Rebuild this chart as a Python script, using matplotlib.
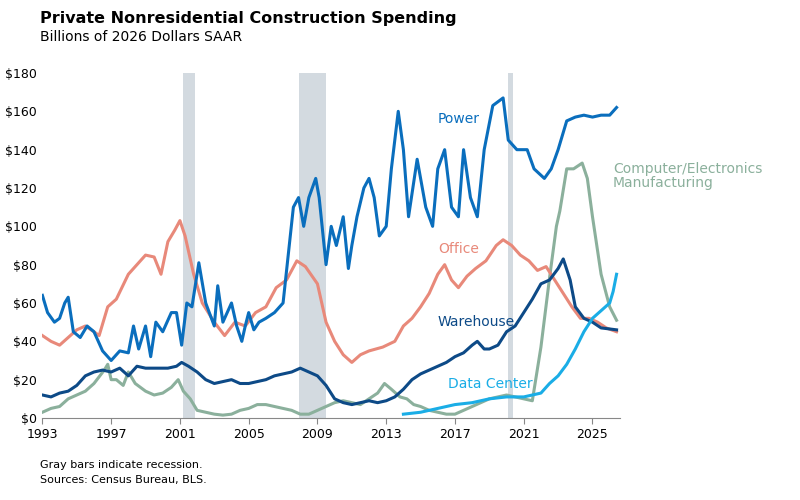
import numpy as np
import matplotlib.pyplot as plt

power_x = [1993.0, 1993.3, 1993.7, 1994.0, 1994.3, 1994.5, 1994.8, 1995.2, 1995.6, 1996.0, 1996.5, 1997.0,
           1997.5, 1998.0, 1998.3, 1998.6, 1999.0, 1999.3, 1999.6, 2000.0, 2000.5, 2000.8, 2001.1, 2001.4,
           2001.7, 2002.1, 2002.5, 2003.0, 2003.2, 2003.5, 2004.0, 2004.3, 2004.6, 2004.8, 2005.0, 2005.3,
           2005.6, 2006.0, 2006.5, 2007.0, 2007.3, 2007.6, 2007.9, 2008.2, 2008.5, 2008.9, 2009.1, 2009.5,
           2009.8, 2010.1, 2010.5, 2010.8, 2011.0, 2011.3, 2011.7, 2012.0, 2012.3, 2012.6, 2013.0, 2013.3,
           2013.7, 2014.0, 2014.3, 2014.8, 2015.3, 2015.7, 2016.0, 2016.4, 2016.8, 2017.2, 2017.5, 2017.9,
           2018.3, 2018.7, 2019.2, 2019.8, 2020.1, 2020.6, 2021.2, 2021.6, 2022.2, 2022.6, 2023.0, 2023.5,
           2024.0, 2024.5, 2025.0, 2025.5, 2026.0, 2026.4]
power_y = [64, 55, 50, 52, 60, 63, 45, 42, 48, 45, 35, 30,
           35, 34, 48, 36, 48, 32, 50, 45, 55, 55, 38, 60,
           58, 81, 60, 48, 69, 50, 60, 48, 40, 48, 55, 46,
           50, 52, 55, 60, 85, 110, 115, 100, 115, 125, 115, 80,
           100, 90, 105, 78, 90, 105, 120, 125, 115, 95, 100, 130,
           160, 140, 105, 135, 110, 100, 130, 140, 110, 105, 140, 115,
           105, 140, 163, 167, 145, 140, 140, 130, 125, 130, 140, 155,
           157, 158, 157, 158, 158, 162]

office_x = [1993, 1993.5, 1994, 1994.5, 1995, 1995.5, 1996, 1996.3, 1996.8, 1997.3, 1998, 1998.5, 1999, 1999.5,
            1999.9, 2000.3, 2000.7, 2001.0, 2001.3, 2001.8, 2002.3, 2003, 2003.6, 2004.2, 2004.8, 2005.4, 2006,
            2006.6, 2007.2, 2007.8, 2008.3, 2009.0, 2009.5, 2010.0, 2010.5, 2011.0, 2011.5, 2012.0, 2012.8,
            2013.5, 2014.0, 2014.5, 2015.0, 2015.5, 2016.0, 2016.4, 2016.8, 2017.2, 2017.7, 2018.2, 2018.8,
            2019.4, 2019.8, 2020.3, 2020.8, 2021.3, 2021.8, 2022.3, 2022.8, 2023.3, 2023.8, 2024.3, 2024.8,
            2025.3, 2025.8, 2026.4]
office_y = [43, 40, 38, 42, 46, 48, 45, 43, 58, 62, 75, 80, 85, 84,
            75, 92, 98, 103, 95, 75, 60, 50, 43, 50, 48, 55, 58,
            68, 72, 82, 79, 70, 50, 40, 33, 29, 33, 35, 37,
            40, 48, 52, 58, 65, 75, 80, 72, 68, 74, 78, 82,
            90, 93, 90, 85, 82, 77, 79, 72, 65, 58, 52, 52,
            50, 47, 45]

wh_x = [1993, 1993.5, 1994, 1994.5, 1995, 1995.5, 1996, 1996.5, 1997, 1997.5, 1998, 1998.5, 1999, 1999.5,
        2000.3, 2000.8, 2001.1, 2001.5, 2002.0, 2002.5, 2003, 2003.5, 2004, 2004.5, 2005, 2005.5, 2006,
        2006.5, 2007, 2007.5, 2008, 2008.5, 2009, 2009.5, 2010, 2010.5, 2011, 2011.5, 2012, 2012.5, 2013,
        2013.5, 2014, 2014.5, 2015, 2015.5, 2016, 2016.5, 2017, 2017.5, 2018, 2018.3, 2018.7, 2019, 2019.5,
        2020, 2020.5, 2021.0, 2021.5, 2022.0, 2022.5, 2023.0, 2023.3, 2023.7, 2024.0, 2024.5, 2025, 2025.5,
        2026.4]
wh_y = [12, 11, 13, 14, 17, 22, 24, 25, 24, 26, 22, 27, 26, 26,
        26, 27, 29, 27, 24, 20, 18, 19, 20, 18, 18, 19, 20,
        22, 23, 24, 26, 24, 22, 17, 10, 8, 7, 8, 9, 8, 9,
        11, 15, 20, 23, 25, 27, 29, 32, 34, 38, 40, 36, 36, 38,
        45, 48, 55, 62, 70, 72, 78, 83, 72, 58, 52, 50, 47,
        46]

comp_x = [1993, 1993.5, 1994, 1994.5, 1995, 1995.5, 1996, 1996.6, 1996.8, 1997.0, 1997.3, 1997.7, 1998.0,
          1998.4, 1999, 1999.5, 2000, 2000.5, 2000.9, 2001.2, 2001.6, 2002, 2002.5, 2003, 2003.5, 2004,
          2004.5, 2005, 2005.5, 2006, 2006.5, 2007, 2007.5, 2008, 2008.5, 2009, 2009.5, 2010, 2010.5, 2011,
          2011.5, 2012, 2012.5, 2012.9, 2013.3, 2013.8, 2014.2, 2014.6, 2015, 2015.5, 2016, 2016.5, 2017,
          2017.5, 2018, 2018.5, 2019, 2019.5, 2020, 2020.5, 2021, 2021.5, 2022.0, 2022.5, 2022.9, 2023.1,
          2023.5, 2023.9, 2024.4, 2024.7, 2025.0, 2025.5, 2026.0, 2026.4]
comp_y = [3, 5, 6, 10, 12, 14, 18, 25, 28, 20, 20, 17, 24,
          18, 14, 12, 13, 16, 20, 14, 10, 4, 3, 2, 1.5, 2,
          4, 5, 7, 7, 6, 5, 4, 2, 2, 4, 6, 8, 9, 8,
          7, 10, 13, 18, 15, 11, 10, 7, 6, 4, 3, 2, 2,
          4, 6, 8, 10, 11, 12, 11, 10, 9, 37, 73, 100, 108,
          130, 130, 133, 125, 105, 75, 58, 51]

dc_x = [2014.0, 2015, 2016, 2017, 2018, 2019, 2020, 2021, 2021.5, 2022, 2022.5, 2023, 2023.5, 2024, 2024.5,
        2025, 2025.5, 2026, 2026.2, 2026.4]
dc_y = [2, 3, 5, 7, 8, 10, 11, 11, 12, 13, 18, 22, 28, 36, 45,
        52, 56, 60, 66, 75]

recessions = [(2001.2, 2001.9), (2007.9, 2009.5), (2020.1, 2020.35)]

c_power = '#0A6EBD'
c_office = '#E8897A'
c_wh = '#0D4A87'
c_comp = '#8BB09C'
c_dc = '#1AADE6'

fig = plt.figure(figsize=(8, 5), dpi=100)
ax = fig.add_axes([0.053, 0.164, 0.722, 0.69])

for a, b in recessions:
    ax.axvspan(a, b, color='#D3DAE0', lw=0, zorder=0)

lw = 2.2
ax.plot(comp_x, comp_y, color=c_comp, lw=lw)
ax.plot(office_x, office_y, color=c_office, lw=lw)
ax.plot(wh_x, wh_y, color=c_wh, lw=lw)
ax.plot(power_x, power_y, color=c_power, lw=lw)
ax.plot(dc_x, dc_y, color=c_dc, lw=lw)

kw = dict(fontsize=10, va='center')
ax.text(2016.0, 156, 'Power', color=c_power, **kw)
ax.text(2016.0, 88, 'Office', color=c_office, **kw)
ax.text(2016.0, 50, 'Warehouse', color=c_wh, **kw)
ax.text(2016.6, 18, 'Data Center', color=c_dc, **kw)
ax.text(2026.2, 126, 'Computer/Electronics\nManufacturing', color=c_comp, linespacing=1.0, **kw)

ax.set_xlim(1993, 2026.6)
ax.set_ylim(0, 180)
ax.set_xticks(range(1993, 2026, 4))
ax.set_yticks(range(0, 181, 20))
ax.set_yticklabels([f'${v}' for v in range(0, 181, 20)])
for s in ['top', 'right', 'left']:
    ax.spines[s].set_visible(False)
ax.spines['bottom'].set_color('#888888')
ax.tick_params(axis='y', length=0, labelsize=9, pad=4)
ax.tick_params(axis='x', length=4, color='#888888', labelsize=9)

fig.text(0.05, 0.955, 'Private Nonresidential Construction Spending', fontsize=11.5, fontweight='bold')
fig.text(0.05, 0.918, 'Billions of 2026 Dollars SAAR', fontsize=10)
fig.text(0.05, 0.065, 'Gray bars indicate recession.', fontsize=8)
fig.text(0.05, 0.035, 'Sources: Census Bureau, BLS.', fontsize=8)

fig.savefig('out.png', dpi=100)
